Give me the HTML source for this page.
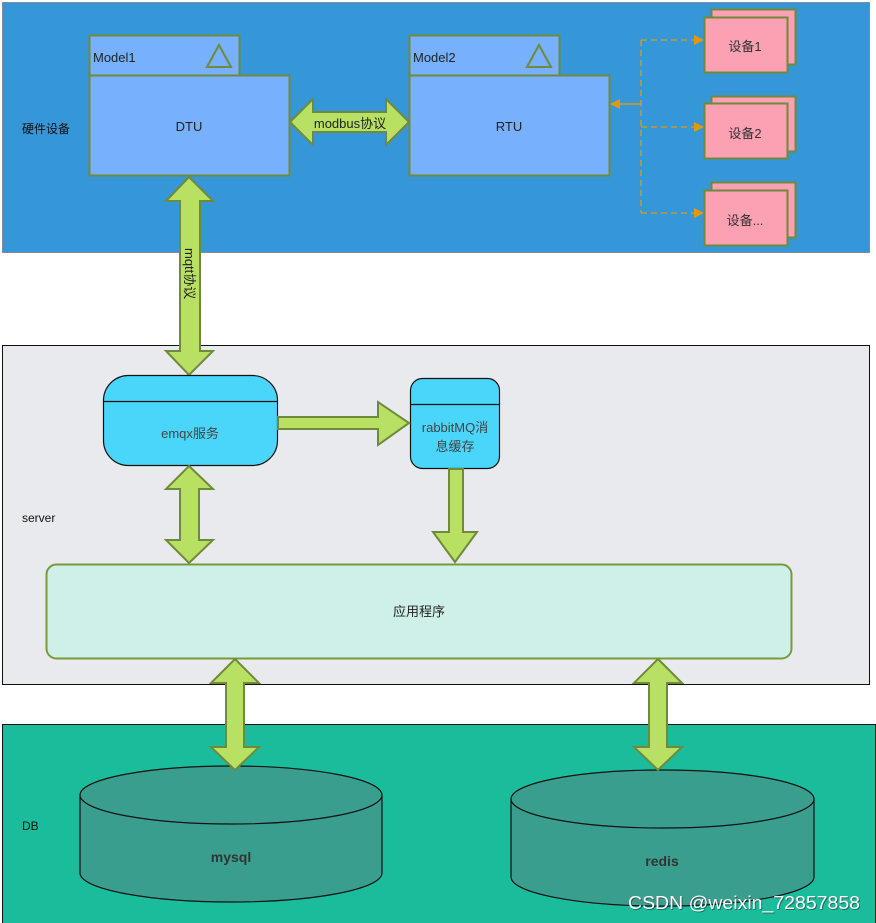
<!DOCTYPE html>
<html><head><meta charset="utf-8"><style>
html,body{margin:0;padding:0;background:#fff;}
svg{display:block;font-family:"Liberation Sans","Noto Sans CJK SC",sans-serif;}
</style></head><body>
<svg width="876" height="923" viewBox="0 0 876 923" xmlns="http://www.w3.org/2000/svg">
<defs>
<marker id="oa" markerWidth="10" markerHeight="10" refX="9" refY="5" orient="auto" markerUnits="userSpaceOnUse"><path d="M0,0 L10,5 L0,10 z" fill="#e09a10"/></marker>
</defs>
<rect x="2.5" y="2.5" width="867" height="250" fill="#3597d8" stroke="#7f8c99"/>
<text x="22" y="133" font-size="12" fill="#111">硬件设备</text>
<rect x="89.5" y="35.5" width="150" height="40" fill="#77b0fc" stroke="#6f8a3a" stroke-width="2"/>
<text x="93" y="62" font-size="13" fill="#222">Model1</text>
<path d="M219,45 L231,67 L207,67 z" fill="none" stroke="#6f8a3a" stroke-width="2"/>
<rect x="89.5" y="75.5" width="200" height="100" fill="#77b0fc" stroke="#6f8a3a" stroke-width="2"/>
<text x="189" y="131" font-size="13" fill="#222" text-anchor="middle">DTU</text>
<rect x="409.5" y="35.5" width="150" height="40" fill="#77b0fc" stroke="#6f8a3a" stroke-width="2"/>
<text x="413" y="62" font-size="13" fill="#222">Model2</text>
<path d="M539,45 L551,67 L527,67 z" fill="none" stroke="#6f8a3a" stroke-width="2"/>
<rect x="409.5" y="75.5" width="200" height="100" fill="#77b0fc" stroke="#6f8a3a" stroke-width="2"/>
<text x="509" y="131" font-size="13" fill="#222" text-anchor="middle">RTU</text>
<path d="M290,122 L313,99 L313,112 L386,112 L386,99 L409,122 L386,145 L386,132 L313,132 L313,145 z" fill="#b8e063" stroke="#6f8a3a" stroke-width="2"/>
<text x="350" y="128" font-size="13" fill="#222" text-anchor="middle">modbus协议</text>
<path d="M641,40 V213" stroke="#e09a10" stroke-width="1.3" stroke-dasharray="6,4" fill="none"/>
<path d="M641,40 H703" stroke="#e09a10" stroke-width="1.3" stroke-dasharray="6,4" fill="none" marker-end="url(#oa)"/>
<path d="M641,127 H703" stroke="#e09a10" stroke-width="1.3" stroke-dasharray="6,4" fill="none" marker-end="url(#oa)"/>
<path d="M641,213 H703" stroke="#e09a10" stroke-width="1.3" stroke-dasharray="6,4" fill="none" marker-end="url(#oa)"/>
<path d="M641,104 H611" stroke="#e09a10" stroke-width="1.5" fill="none" marker-end="url(#oa)"/>
<g stroke="#6f8a3a" stroke-width="2" fill="#fca0b4">
<rect x="711.5" y="9.5" width="84" height="55"/><rect x="704.5" y="17.5" width="83" height="55"/>
<rect x="711.5" y="96.5" width="84" height="55"/><rect x="704.5" y="103.5" width="83" height="55"/>
<rect x="711.5" y="182.5" width="84" height="55"/><rect x="704.5" y="190.5" width="83" height="55"/>
</g>
<text x="745" y="51" font-size="13" fill="#333" text-anchor="middle">设备1</text>
<text x="745" y="138" font-size="13" fill="#333" text-anchor="middle">设备2</text>
<text x="745" y="225" font-size="13" fill="#333" text-anchor="middle">设备...</text>
<rect x="2.5" y="345.5" width="867" height="339" fill="#e9eaee" stroke="#111"/>
<text x="22" y="522" font-size="12" fill="#111">server</text>
<path d="M189,177 L213,201 L200,201 L200,351 L213,351 L189,375 L166,351 L180,351 L180,201 L166,201 z" fill="#b8e063" stroke="#6f8a3a" stroke-width="2"/>
<text transform="translate(185,248) rotate(90)" font-size="13" fill="#222">mqtt协议</text>
<rect x="103.5" y="375.5" width="174" height="90" rx="25" fill="#4ad6fb" stroke="#111" stroke-width="1.2"/>
<line x1="103.5" y1="401.5" x2="277.5" y2="401.5" stroke="#111" stroke-width="1.2"/>
<text x="190" y="438" font-size="13" fill="#444" text-anchor="middle">emqx服务</text>
<rect x="410.5" y="378.5" width="89" height="90" rx="12" fill="#4ad6fb" stroke="#111" stroke-width="1.2"/>
<line x1="410.5" y1="404.5" x2="499.5" y2="404.5" stroke="#111" stroke-width="1.2"/>
<text x="455" y="432" font-size="13" fill="#444" text-anchor="middle">rabbitMQ消</text>
<text x="455" y="451" font-size="13" fill="#444" text-anchor="middle">息缓存</text>
<path d="M278,417 L378,417 L378,402 L409,423 L378,445 L378,429 L278,429 z" fill="#b8e063" stroke="#6f8a3a" stroke-width="2"/>
<path d="M189,466 L213,489 L199,489 L199,540 L213,540 L189,563 L166,540 L180,540 L180,489 L166,489 z" fill="#b8e063" stroke="#6f8a3a" stroke-width="2"/>
<path d="M449,469 L463,469 L463,532 L477,532 L455,562 L433,532 L449,532 z" fill="#b8e063" stroke="#6f8a3a" stroke-width="2"/>
<rect x="46.5" y="564.5" width="745" height="94" rx="10" fill="#cff0e9" stroke="#7a9a3a" stroke-width="2"/>
<text x="419" y="616" font-size="13" fill="#222" text-anchor="middle">应用程序</text>
<rect x="2.5" y="724.5" width="873" height="200" fill="#1abc9c" stroke="#111"/>
<text x="22" y="830" font-size="12" fill="#111">DB</text>
<g stroke="#111" stroke-width="1.2" fill="#3a9e8e">
<path d="M80,795 V873 A151,29 0 0 0 382,873 V795"/>
<ellipse cx="231" cy="795" rx="151" ry="29"/>
<path d="M511,799 V877 A151,29 0 0 0 814,877 V799"/>
<ellipse cx="662.5" cy="799" rx="151.5" ry="29"/>
</g>
<text x="231" y="862" font-size="14" font-weight="bold" fill="#333" text-anchor="middle">mysql</text>
<text x="662" y="866" font-size="14" font-weight="bold" fill="#333" text-anchor="middle">redis</text>
<path d="M235,659 L259,683 L244,683 L244,747 L259,747 L235,770 L211,747 L226,747 L226,683 L211,683 z" fill="#b8e063" stroke="#6f8a3a" stroke-width="2"/>
<path d="M658,659 L682,683 L667,683 L667,747 L682,747 L658,770 L634,747 L649,747 L649,683 L634,683 z" fill="#b8e063" stroke="#6f8a3a" stroke-width="2"/>
<text x="629" y="910" font-size="18" fill="#222" opacity="0.5" textLength="232" lengthAdjust="spacingAndGlyphs">CSDN @weixin_72857858</text>
<text x="628" y="909" font-size="18" fill="#fff" textLength="232" lengthAdjust="spacingAndGlyphs">CSDN @weixin_72857858</text>
</svg>
</body></html>
